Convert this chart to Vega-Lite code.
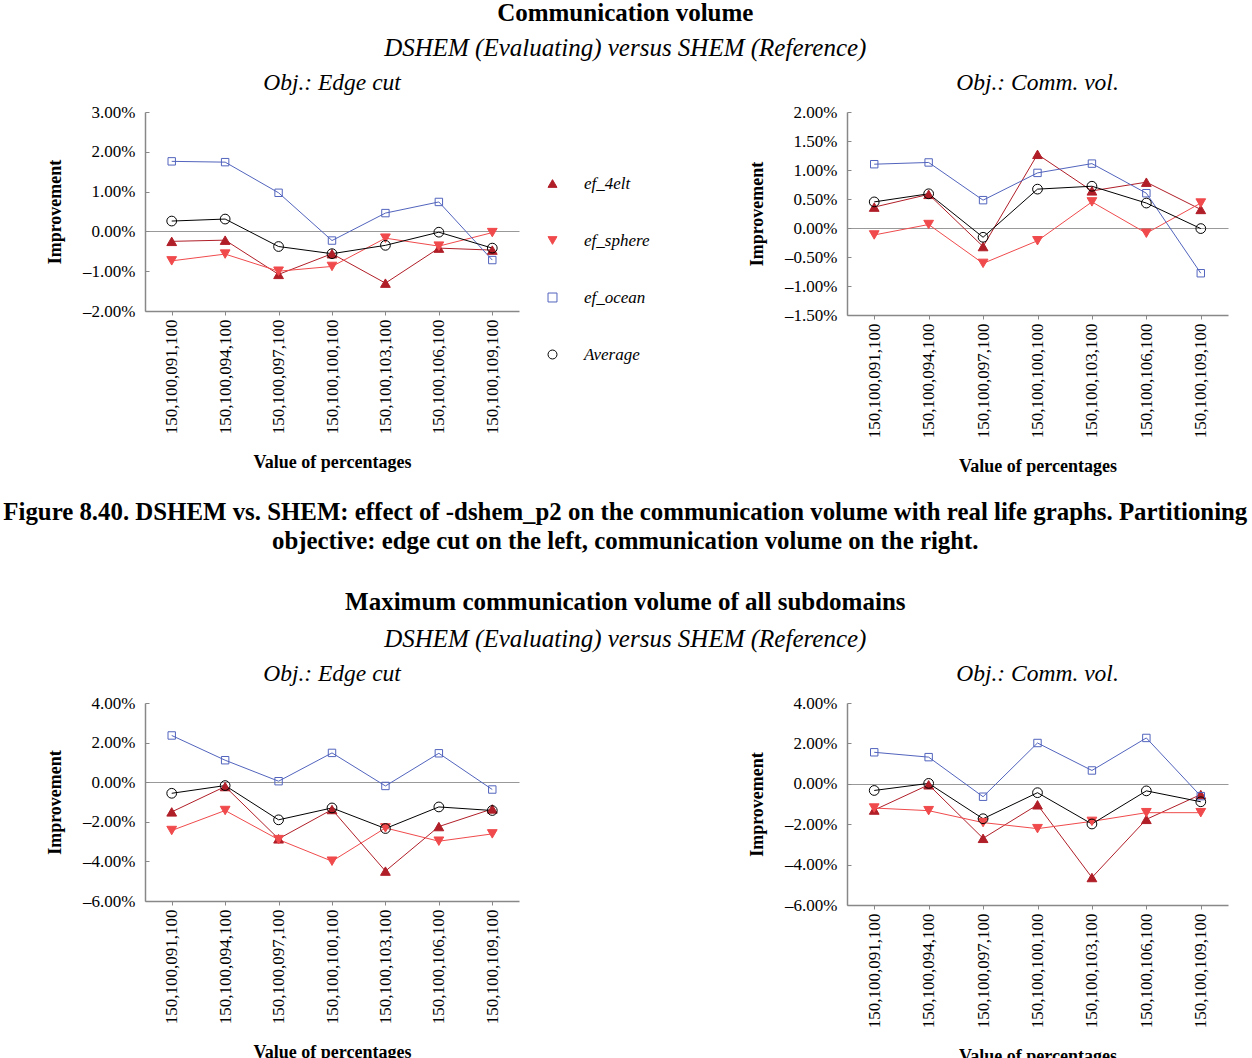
{
  "$schema": "https://vega.github.io/schema/vega-lite/v6.json",
  "background": "white",
  "padding": {"left": 3, "top": 0, "right": 0, "bottom": 0},
  "config": {
    "font": "Liberation Serif",
    "view": {"stroke": null},
    "axis": {
      "grid": false,
      "domainColor": "#888888",
      "domainWidth": 1.5,
      "tickColor": "#888888",
      "labelFont": "Liberation Serif",
      "labelFontSize": 17,
      "labelColor": "#000000",
      "labelOverlap": false,
      "labelSeparation": 0,
      "labelFlush": false,
      "titleFont": "Liberation Serif",
      "titleFontSize": 18,
      "titleFontWeight": "bold",
      "titleColor": "#000000"
    },
    "legend": {
      "labelFont": "Liberation Serif",
      "labelFontSize": 17,
      "labelFontStyle": "italic",
      "labelColor": "#000000",
      "symbolStrokeWidth": 1
    },
    "title": {
      "font": "Liberation Serif",
      "fontSize": 25,
      "fontWeight": "bold",
      "color": "#000000",
      "subtitleFont": "Liberation Serif",
      "subtitleFontSize": 25,
      "subtitleFontStyle": "italic",
      "subtitleColor": "#000000",
      "anchor": "middle"
    }
  },
  "datasets": {
    "cv_edge": [
      {"pct": "150,100,091,100", "series": "ef_4elt", "value": -0.25},
      {"pct": "150,100,094,100", "series": "ef_4elt", "value": -0.22},
      {"pct": "150,100,097,100", "series": "ef_4elt", "value": -1.08},
      {"pct": "150,100,100,100", "series": "ef_4elt", "value": -0.56},
      {"pct": "150,100,103,100", "series": "ef_4elt", "value": -1.30},
      {"pct": "150,100,106,100", "series": "ef_4elt", "value": -0.42},
      {"pct": "150,100,109,100", "series": "ef_4elt", "value": -0.47},
      {"pct": "150,100,091,100", "series": "ef_sphere", "value": -0.74},
      {"pct": "150,100,094,100", "series": "ef_sphere", "value": -0.57},
      {"pct": "150,100,097,100", "series": "ef_sphere", "value": -1.00},
      {"pct": "150,100,100,100", "series": "ef_sphere", "value": -0.88},
      {"pct": "150,100,103,100", "series": "ef_sphere", "value": -0.17},
      {"pct": "150,100,106,100", "series": "ef_sphere", "value": -0.37},
      {"pct": "150,100,109,100", "series": "ef_sphere", "value": -0.03},
      {"pct": "150,100,091,100", "series": "ef_ocean", "value": 1.76},
      {"pct": "150,100,094,100", "series": "ef_ocean", "value": 1.74},
      {"pct": "150,100,097,100", "series": "ef_ocean", "value": 0.97},
      {"pct": "150,100,100,100", "series": "ef_ocean", "value": -0.23},
      {"pct": "150,100,103,100", "series": "ef_ocean", "value": 0.46},
      {"pct": "150,100,106,100", "series": "ef_ocean", "value": 0.74},
      {"pct": "150,100,109,100", "series": "ef_ocean", "value": -0.72},
      {"pct": "150,100,091,100", "series": "Average", "value": 0.26},
      {"pct": "150,100,094,100", "series": "Average", "value": 0.31},
      {"pct": "150,100,097,100", "series": "Average", "value": -0.38},
      {"pct": "150,100,100,100", "series": "Average", "value": -0.56},
      {"pct": "150,100,103,100", "series": "Average", "value": -0.35},
      {"pct": "150,100,106,100", "series": "Average", "value": -0.02},
      {"pct": "150,100,109,100", "series": "Average", "value": -0.42}
    ],
    "cv_comm": [
      {"pct": "150,100,091,100", "series": "ef_4elt", "value": 0.36},
      {"pct": "150,100,094,100", "series": "ef_4elt", "value": 0.58},
      {"pct": "150,100,097,100", "series": "ef_4elt", "value": -0.32},
      {"pct": "150,100,100,100", "series": "ef_4elt", "value": 1.27},
      {"pct": "150,100,103,100", "series": "ef_4elt", "value": 0.64},
      {"pct": "150,100,106,100", "series": "ef_4elt", "value": 0.79},
      {"pct": "150,100,109,100", "series": "ef_4elt", "value": 0.32},
      {"pct": "150,100,091,100", "series": "ef_sphere", "value": -0.12},
      {"pct": "150,100,094,100", "series": "ef_sphere", "value": 0.06},
      {"pct": "150,100,097,100", "series": "ef_sphere", "value": -0.61},
      {"pct": "150,100,100,100", "series": "ef_sphere", "value": -0.22},
      {"pct": "150,100,103,100", "series": "ef_sphere", "value": 0.45},
      {"pct": "150,100,106,100", "series": "ef_sphere", "value": -0.09},
      {"pct": "150,100,109,100", "series": "ef_sphere", "value": 0.43},
      {"pct": "150,100,091,100", "series": "ef_ocean", "value": 1.10},
      {"pct": "150,100,094,100", "series": "ef_ocean", "value": 1.13},
      {"pct": "150,100,097,100", "series": "ef_ocean", "value": 0.48},
      {"pct": "150,100,100,100", "series": "ef_ocean", "value": 0.95},
      {"pct": "150,100,103,100", "series": "ef_ocean", "value": 1.11},
      {"pct": "150,100,106,100", "series": "ef_ocean", "value": 0.60},
      {"pct": "150,100,109,100", "series": "ef_ocean", "value": -0.78},
      {"pct": "150,100,091,100", "series": "Average", "value": 0.45},
      {"pct": "150,100,094,100", "series": "Average", "value": 0.59},
      {"pct": "150,100,097,100", "series": "Average", "value": -0.16},
      {"pct": "150,100,100,100", "series": "Average", "value": 0.67},
      {"pct": "150,100,103,100", "series": "Average", "value": 0.72},
      {"pct": "150,100,106,100", "series": "Average", "value": 0.43},
      {"pct": "150,100,109,100", "series": "Average", "value": -0.01}
    ],
    "max_edge": [
      {"pct": "150,100,091,100", "series": "ef_4elt", "value": -1.50},
      {"pct": "150,100,094,100", "series": "ef_4elt", "value": -0.22},
      {"pct": "150,100,097,100", "series": "ef_4elt", "value": -2.86},
      {"pct": "150,100,100,100", "series": "ef_4elt", "value": -1.38},
      {"pct": "150,100,103,100", "series": "ef_4elt", "value": -4.49},
      {"pct": "150,100,106,100", "series": "ef_4elt", "value": -2.24},
      {"pct": "150,100,109,100", "series": "ef_4elt", "value": -1.35},
      {"pct": "150,100,091,100", "series": "ef_sphere", "value": -2.44},
      {"pct": "150,100,094,100", "series": "ef_sphere", "value": -1.43},
      {"pct": "150,100,097,100", "series": "ef_sphere", "value": -2.90},
      {"pct": "150,100,100,100", "series": "ef_sphere", "value": -3.99},
      {"pct": "150,100,103,100", "series": "ef_sphere", "value": -2.31},
      {"pct": "150,100,106,100", "series": "ef_sphere", "value": -2.98},
      {"pct": "150,100,109,100", "series": "ef_sphere", "value": -2.61},
      {"pct": "150,100,091,100", "series": "ef_ocean", "value": 2.36},
      {"pct": "150,100,094,100", "series": "ef_ocean", "value": 1.11},
      {"pct": "150,100,097,100", "series": "ef_ocean", "value": 0.05},
      {"pct": "150,100,100,100", "series": "ef_ocean", "value": 1.48},
      {"pct": "150,100,103,100", "series": "ef_ocean", "value": -0.19},
      {"pct": "150,100,106,100", "series": "ef_ocean", "value": 1.46},
      {"pct": "150,100,109,100", "series": "ef_ocean", "value": -0.37},
      {"pct": "150,100,091,100", "series": "Average", "value": -0.56},
      {"pct": "150,100,094,100", "series": "Average", "value": -0.17},
      {"pct": "150,100,097,100", "series": "Average", "value": -1.90},
      {"pct": "150,100,100,100", "series": "Average", "value": -1.30},
      {"pct": "150,100,103,100", "series": "Average", "value": -2.34},
      {"pct": "150,100,106,100", "series": "Average", "value": -1.25},
      {"pct": "150,100,109,100", "series": "Average", "value": -1.43}
    ],
    "max_comm": [
      {"pct": "150,100,091,100", "series": "ef_4elt", "value": -1.30},
      {"pct": "150,100,094,100", "series": "ef_4elt", "value": -0.05},
      {"pct": "150,100,097,100", "series": "ef_4elt", "value": -2.70},
      {"pct": "150,100,100,100", "series": "ef_4elt", "value": -1.04},
      {"pct": "150,100,103,100", "series": "ef_4elt", "value": -4.64},
      {"pct": "150,100,106,100", "series": "ef_4elt", "value": -1.76},
      {"pct": "150,100,109,100", "series": "ef_4elt", "value": -0.53},
      {"pct": "150,100,091,100", "series": "ef_sphere", "value": -1.20},
      {"pct": "150,100,094,100", "series": "ef_sphere", "value": -1.33},
      {"pct": "150,100,097,100", "series": "ef_sphere", "value": -1.92},
      {"pct": "150,100,100,100", "series": "ef_sphere", "value": -2.22},
      {"pct": "150,100,103,100", "series": "ef_sphere", "value": -1.86},
      {"pct": "150,100,106,100", "series": "ef_sphere", "value": -1.43},
      {"pct": "150,100,109,100", "series": "ef_sphere", "value": -1.43},
      {"pct": "150,100,091,100", "series": "ef_ocean", "value": 1.56},
      {"pct": "150,100,094,100", "series": "ef_ocean", "value": 1.32},
      {"pct": "150,100,097,100", "series": "ef_ocean", "value": -0.64},
      {"pct": "150,100,100,100", "series": "ef_ocean", "value": 2.02},
      {"pct": "150,100,103,100", "series": "ef_ocean", "value": 0.66},
      {"pct": "150,100,106,100", "series": "ef_ocean", "value": 2.27},
      {"pct": "150,100,109,100", "series": "ef_ocean", "value": -0.61},
      {"pct": "150,100,091,100", "series": "Average", "value": -0.33},
      {"pct": "150,100,094,100", "series": "Average", "value": 0.02},
      {"pct": "150,100,097,100", "series": "Average", "value": -1.73},
      {"pct": "150,100,100,100", "series": "Average", "value": -0.44},
      {"pct": "150,100,103,100", "series": "Average", "value": -1.99},
      {"pct": "150,100,106,100", "series": "Average", "value": -0.35},
      {"pct": "150,100,109,100", "series": "Average", "value": -0.89}
    ]
  },
  "spacing": 23,
  "vconcat": [
    {
      "title": {"text": "Communication volume", "subtitle": "DSHEM (Evaluating) versus SHEM (Reference)", "offset": 10, "subtitlePadding": 10, "dx": -12},
      "spacing": 229,
      "hconcat": [
        {
          "width": 374, "height": 199,
          "title": {"text": "Obj.: Edge cut", "fontSize": 23.5, "fontWeight": "normal", "fontStyle": "italic", "frame": "group", "offset": 9},
          "data": {"name": "cv_edge"},
          "layer": [
            {
              "mark": {"type": "line", "strokeWidth": 1},
              "encoding": {
                "x": {"field": "pct", "type": "ordinal", "sort": null, "scale": {"type": "point", "padding": 0.5}, "axis": {"title": "Value of percentages", "labelAngle": 270, "labelAlign": "right", "labelBaseline": "middle", "labelPadding": 4, "tickSize": 4, "titlePadding": 20, "labelOverlap": false}},
                "y": {"field": "value", "type": "quantitative", "scale": {"domain": [-2, 3], "nice": false, "zero": false}, "axis": {"title": "Improvement", "values": [-2, -1, 0, 1, 2, 3], "tickCount": 50, "labelExpr": "(datum.value < 0 ? '–' : '') + format(abs(datum.value), '.2f') + '%'", "labelOverlap": false, "grid": true, "gridWidth": 1, "gridColor": {"condition": {"test": "datum.value === 0", "value": "#999999"}, "value": "transparent"}, "tickSize": -4, "labelPadding": 14, "titlePadding": 18}},
                "stroke": {"field": "series", "type": "nominal", "sort": null, "scale": {"domain": ["ef_4elt", "ef_sphere", "ef_ocean", "Average"], "range": ["#b01e28", "#f04a4c", "#5264bd", "#000000"]},
                  "legend": {"title": null, "orient": "none", "legendX": 399, "legendY": 63, "symbolSize": 80, "labelOffset": 23, "rowPadding": 39}}
              }
            },
            {
              "mark": {"type": "point", "filled": true, "strokeWidth": 1, "opacity": 1},
              "encoding": {
                "x": {"field": "pct", "type": "ordinal", "sort": null},
                "y": {"field": "value", "type": "quantitative"},
                "stroke": {"field": "series", "type": "nominal", "sort": null,
                  "legend": {"title": null, "orient": "none", "legendX": 399, "legendY": 63, "symbolSize": 80, "labelOffset": 23, "rowPadding": 39}},
                "fill": {"field": "series", "type": "nominal", "sort": null, "scale": {"domain": ["ef_4elt", "ef_sphere", "ef_ocean", "Average"], "range": ["#b01e28", "#f04a4c", "transparent", "transparent"]}, "legend": null},
                "shape": {"field": "series", "type": "nominal", "sort": null, "scale": {"domain": ["ef_4elt", "ef_sphere", "ef_ocean", "Average"], "range": ["triangle-up", "triangle-down", "square", "circle"]}, "legend": null},
                "size": {"condition": {"test": "datum.series == 'ef_ocean'", "value": 55}, "value": 95}
              }
            }
          ]
        },
        {
          "width": 381, "height": 203,
          "title": {"text": "Obj.: Comm. vol.", "fontSize": 23.5, "fontWeight": "normal", "fontStyle": "italic", "frame": "group", "offset": 9},
          "data": {"name": "cv_comm"},
          "layer": [
            {
              "mark": {"type": "line", "strokeWidth": 1},
              "encoding": {
                "x": {"field": "pct", "type": "ordinal", "sort": null, "scale": {"type": "point", "padding": 0.5}, "axis": {"title": "Value of percentages", "labelAngle": 270, "labelAlign": "right", "labelBaseline": "middle", "labelPadding": 4, "tickSize": 4, "titlePadding": 20, "labelOverlap": false}},
                "y": {"field": "value", "type": "quantitative", "scale": {"domain": [-1.5, 2], "nice": false, "zero": false}, "axis": {"title": "Improvement", "values": [-1.5, -1, -0.5, 0, 0.5, 1, 1.5, 2], "tickCount": 50, "labelExpr": "(datum.value < 0 ? '–' : '') + format(abs(datum.value), '.2f') + '%'", "labelOverlap": false, "grid": true, "gridWidth": 1, "gridColor": {"condition": {"test": "datum.value === 0", "value": "#999999"}, "value": "transparent"}, "tickSize": -4, "labelPadding": 14, "titlePadding": 18}},
                "stroke": {"field": "series", "type": "nominal", "sort": null, "scale": {"domain": ["ef_4elt", "ef_sphere", "ef_ocean", "Average"], "range": ["#b01e28", "#f04a4c", "#5264bd", "#000000"]}, "legend": null}
              }
            },
            {
              "mark": {"type": "point", "filled": true, "strokeWidth": 1, "opacity": 1},
              "encoding": {
                "x": {"field": "pct", "type": "ordinal", "sort": null},
                "y": {"field": "value", "type": "quantitative"},
                "stroke": {"field": "series", "type": "nominal", "sort": null, "legend": null},
                "fill": {"field": "series", "type": "nominal", "sort": null, "scale": {"domain": ["ef_4elt", "ef_sphere", "ef_ocean", "Average"], "range": ["#b01e28", "#f04a4c", "transparent", "transparent"]}, "legend": null},
                "shape": {"field": "series", "type": "nominal", "sort": null, "scale": {"domain": ["ef_4elt", "ef_sphere", "ef_ocean", "Average"], "range": ["triangle-up", "triangle-down", "square", "circle"]}, "legend": null},
                "size": {"condition": {"test": "datum.series == 'ef_ocean'", "value": 55}, "value": 95}
              }
            }
          ]
        }
      ]
    },
    {
      "title": {"text": ["Figure 8.40. DSHEM vs. SHEM: effect of -dshem_p2 on the communication volume with real life graphs. Partitioning", "objective: edge cut on the left, communication volume on the right."], "fontSize": 24.85, "lineHeight": 29, "offset": 36, "dx": -12},
      "vconcat": [
        {
          "title": {"text": "Maximum communication volume of all subdomains", "subtitle": "DSHEM (Evaluating) versus SHEM (Reference)", "offset": 10, "subtitlePadding": 12, "dx": -12},
          "spacing": 229,
          "hconcat": [
            {
              "width": 374, "height": 198,
              "title": {"text": "Obj.: Edge cut", "fontSize": 23.5, "fontWeight": "normal", "fontStyle": "italic", "frame": "group", "offset": 9},
              "data": {"name": "max_edge"},
              "layer": [
                {
                  "mark": {"type": "line", "strokeWidth": 1},
                  "encoding": {
                    "x": {"field": "pct", "type": "ordinal", "sort": null, "scale": {"type": "point", "padding": 0.5}, "axis": {"title": "Value of percentages", "labelAngle": 270, "labelAlign": "right", "labelBaseline": "middle", "labelPadding": 4, "tickSize": 4, "titlePadding": 20, "labelOverlap": false}},
                    "y": {"field": "value", "type": "quantitative", "scale": {"domain": [-6, 4], "nice": false, "zero": false}, "axis": {"title": "Improvement", "values": [-6, -4, -2, 0, 2, 4], "tickCount": 50, "labelExpr": "(datum.value < 0 ? '–' : '') + format(abs(datum.value), '.2f') + '%'", "labelOverlap": false, "grid": true, "gridWidth": 1, "gridColor": {"condition": {"test": "datum.value === 0", "value": "#999999"}, "value": "transparent"}, "tickSize": -4, "labelPadding": 14, "titlePadding": 18}},
                    "stroke": {"field": "series", "type": "nominal", "sort": null, "scale": {"domain": ["ef_4elt", "ef_sphere", "ef_ocean", "Average"], "range": ["#b01e28", "#f04a4c", "#5264bd", "#000000"]},
                      "legend": {"title": null, "orient": "none", "legendX": 399, "legendY": 63, "symbolSize": 80, "labelOffset": 23, "rowPadding": 39}}
                  }
                },
                {
                  "mark": {"type": "point", "filled": true, "strokeWidth": 1, "opacity": 1},
                  "encoding": {
                    "x": {"field": "pct", "type": "ordinal", "sort": null},
                    "y": {"field": "value", "type": "quantitative"},
                    "stroke": {"field": "series", "type": "nominal", "sort": null,
                      "legend": {"title": null, "orient": "none", "legendX": 399, "legendY": 63, "symbolSize": 80, "labelOffset": 23, "rowPadding": 39}},
                    "fill": {"field": "series", "type": "nominal", "sort": null, "scale": {"domain": ["ef_4elt", "ef_sphere", "ef_ocean", "Average"], "range": ["#b01e28", "#f04a4c", "transparent", "transparent"]}, "legend": null},
                    "shape": {"field": "series", "type": "nominal", "sort": null, "scale": {"domain": ["ef_4elt", "ef_sphere", "ef_ocean", "Average"], "range": ["triangle-up", "triangle-down", "square", "circle"]}, "legend": null},
                    "size": {"condition": {"test": "datum.series == 'ef_ocean'", "value": 55}, "value": 95}
                  }
                }
              ]
            },
            {
              "width": 381, "height": 202,
              "title": {"text": "Obj.: Comm. vol.", "fontSize": 23.5, "fontWeight": "normal", "fontStyle": "italic", "frame": "group", "offset": 9},
              "data": {"name": "max_comm"},
              "layer": [
                {
                  "mark": {"type": "line", "strokeWidth": 1},
                  "encoding": {
                    "x": {"field": "pct", "type": "ordinal", "sort": null, "scale": {"type": "point", "padding": 0.5}, "axis": {"title": "Value of percentages", "labelAngle": 270, "labelAlign": "right", "labelBaseline": "middle", "labelPadding": 4, "tickSize": 4, "titlePadding": 20, "labelOverlap": false}},
                    "y": {"field": "value", "type": "quantitative", "scale": {"domain": [-6, 4], "nice": false, "zero": false}, "axis": {"title": "Improvement", "values": [-6, -4, -2, 0, 2, 4], "tickCount": 50, "labelExpr": "(datum.value < 0 ? '–' : '') + format(abs(datum.value), '.2f') + '%'", "labelOverlap": false, "grid": true, "gridWidth": 1, "gridColor": {"condition": {"test": "datum.value === 0", "value": "#999999"}, "value": "transparent"}, "tickSize": -4, "labelPadding": 14, "titlePadding": 18}},
                    "stroke": {"field": "series", "type": "nominal", "sort": null, "scale": {"domain": ["ef_4elt", "ef_sphere", "ef_ocean", "Average"], "range": ["#b01e28", "#f04a4c", "#5264bd", "#000000"]}, "legend": null}
                  }
                },
                {
                  "mark": {"type": "point", "filled": true, "strokeWidth": 1, "opacity": 1},
                  "encoding": {
                    "x": {"field": "pct", "type": "ordinal", "sort": null},
                    "y": {"field": "value", "type": "quantitative"},
                    "stroke": {"field": "series", "type": "nominal", "sort": null, "legend": null},
                    "fill": {"field": "series", "type": "nominal", "sort": null, "scale": {"domain": ["ef_4elt", "ef_sphere", "ef_ocean", "Average"], "range": ["#b01e28", "#f04a4c", "transparent", "transparent"]}, "legend": null},
                    "shape": {"field": "series", "type": "nominal", "sort": null, "scale": {"domain": ["ef_4elt", "ef_sphere", "ef_ocean", "Average"], "range": ["triangle-up", "triangle-down", "square", "circle"]}, "legend": null},
                    "size": {"condition": {"test": "datum.series == 'ef_ocean'", "value": 55}, "value": 95}
                  }
                }
              ]
            }
          ]
        }
      ]
    }
  ]
}
